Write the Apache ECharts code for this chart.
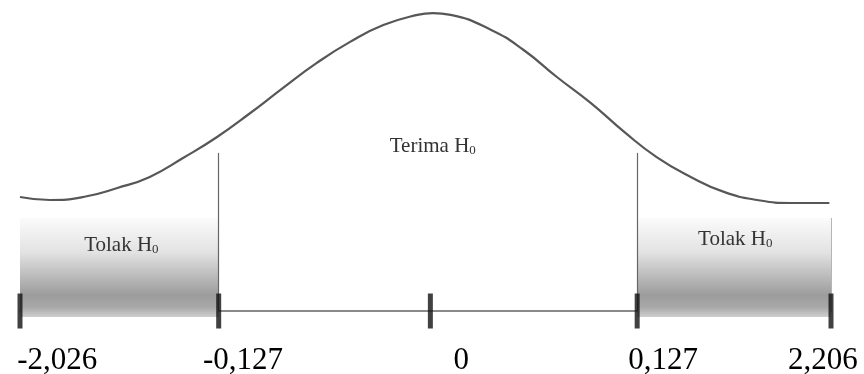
<!DOCTYPE html>
<html>
<head>
<meta charset="utf-8">
<style>
    html, body { margin: 0; padding: 0; background: #fff; }
    #main { width: 864px; height: 374px; }
</style>
<script src="https://cdn.jsdelivr.net/npm/echarts@6/dist/echarts.min.js"></script>
</head>
<body>
<div id="main"></div>
<script>
// posisi sumbu 0..100 (bukan skala linier dari nilai t), tinggi kurva 0..100
var curveX = [0, 3.7, 7.8, 12.0, 16.0, 20.1, 24.3, 28.4, 32.4, 36.6, 40.7, 44.8, 49.0, 50.9,
    53.1, 58.1, 62.1, 66.2, 70.4, 74.5, 78.5, 82.7, 86.8, 90.9, 95.1, 99.8];
var curveY = [38, 37, 38, 41, 44.7, 51, 58, 66, 74.3, 82.7, 89.7, 95.3, 98.7, 99.3,
    98.7, 93.7, 87, 78, 69.3, 59.7, 51.3, 44.7, 39.7, 37, 36, 36];

var tickPos = [0, 24.5, 50.6, 76.1, 100];
var tickLabels = ['-2,026', '-0,127', '0', '0,127', '2,206'];
var labelPos = [4.6, 27.5, 54.4, 79.3, 99.0];

var criticalPos = [24.5, 76.1];
var criticalTop = 52.7;
var rejectAreas = [[0, 24.5], [76.1, 100]];
var rejectTop = 31;
var rejectBottom = -2;

var regionText = ['Terima', 'Tolak', 'Tolak'];
var regionPos = [[50.9, 55], [12.5, 22], [88.2, 24]];

function renderChart() {
    var myChart = echarts.init(document.getElementById('main'));

    var curveData = [];
    for (var i = 0; i < curveX.length; i++) {
        curveData.push([curveX[i], curveY[i]]);
    }
    var tickData = [];
    for (var j = 0; j < tickPos.length; j++) {
        tickData.push([tickPos[j], 0]);
    }

    var areaData = [];
    for (var k = 0; k < rejectAreas.length; k++) {
        areaData.push([{ coord: [rejectAreas[k][0], rejectTop] }, { coord: [rejectAreas[k][1], rejectBottom] }]);
    }

    var lineData = [];
    for (var m = 0; m < criticalPos.length; m++) {
        lineData.push([{ coord: [criticalPos[m], 0] }, { coord: [criticalPos[m], criticalTop] }]);
    }
    // garis tipis di tepi kanan daerah tolak
    lineData.push([{ coord: [100, 0], lineStyle: { color: '#b5b5b5', width: 1 } }, { coord: [100, rejectTop] }]);

    var textData = [];
    for (var n = 0; n < regionText.length; n++) {
        textData.push({ coord: regionPos[n], value: regionText[n] });
    }

    var option = {
        animation: false,
        backgroundColor: '#fff',
        grid: {
            left: 20,
            right: 33,
            top: 11,
            bottom: 57,
            outerBoundsMode: 'none',
            containLabel: false
        },
        xAxis: {
            type: 'value',
            min: 0,
            max: 100,
            axisLine: {
                show: true,
                onZero: true,
                lineStyle: {
                    color: '#8a8a8a',
                    width: 2
                }
            },
            axisTick: { show: false },
            splitLine: { show: false },
            axisLabel: {
                show: true,
                customValues: labelPos,
                margin: 28,
                color: '#000',
                fontFamily: 'Liberation Serif',
                fontSize: 31,
                formatter: function (v) {
                    var idx = labelPos.indexOf(v);
                    return idx >= 0 ? tickLabels[idx] : '';
                }
            }
        },
        yAxis: {
            type: 'value',
            min: -2,
            max: 100,
            show: false,
            splitLine: { show: false }
        },
        series: [{
                type: 'line',
                data: curveData,
                smooth: 0.5,
                symbol: 'none',
                z: 3,
                lineStyle: {
                    color: '#575757',
                    width: 2.2
                },
                markArea: {
                    silent: true,
                    itemStyle: {
                        color: new echarts.graphic.LinearGradient(0, 0, 0, 1, [
                            { offset: 0, color: '#fbfbfb' },
                            { offset: 0.35, color: '#e2e2e2' },
                            { offset: 0.78, color: '#9c9c9c' },
                            { offset: 0.9, color: '#a8a8a8' },
                            { offset: 1, color: '#cfcfcf' }
                        ])
                    },
                    data: areaData
                },
                markLine: {
                    silent: true,
                    symbol: ['none', 'none'],
                    label: { show: false },
                    lineStyle: {
                        color: '#666',
                        width: 1.2,
                        type: 'solid'
                    },
                    data: lineData
                },
                markPoint: {
                    silent: true,
                    symbol: 'circle',
                    symbolSize: 0,
                    label: {
                        show: true,
                        position: 'inside',
                        formatter: function (p) {
                            return '{t|' + p.value + ' H}{s|0}';
                        },
                        rich: {
                            t: {
                                fontFamily: 'Liberation Serif',
                                fontSize: 21,
                                color: '#333',
                                lineHeight: 24
                            },
                            s: {
                                fontFamily: 'Liberation Serif',
                                fontSize: 13,
                                color: '#333',
                                lineHeight: 13,
                                padding: [10, 0, 0, 0]
                            }
                        }
                    },
                    data: textData
                }
            },
            {
                type: 'scatter',
                data: tickData,
                symbol: 'rect',
                symbolSize: [5, 35],
                clip: false,
                z: 5,
                silent: true,
                itemStyle: {
                    color: '#111'
                }
            }
        ]
    };
    myChart.setOption(option);
    window.addEventListener('resize', function () {
        myChart.resize();
    });
}

renderChart();
</script>
</body>
</html>
